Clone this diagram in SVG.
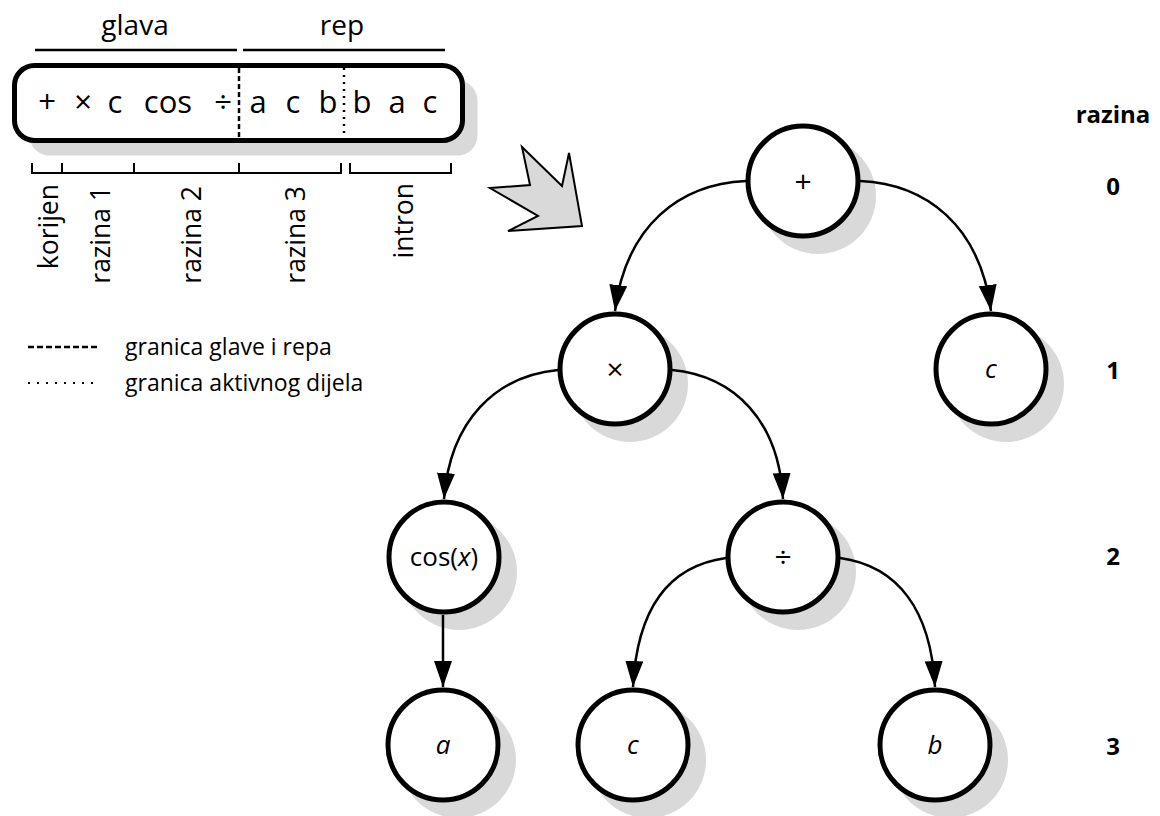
<svg xmlns="http://www.w3.org/2000/svg" width="1160" height="816" viewBox="0 0 1160 816">
<defs>
<style>
.t{font-family:"Open Sans","Noto Sans","DejaVu Sans",sans-serif;fill:#000}
.c{text-anchor:middle}
.sh{fill:#d9d9d9}
.nc{fill:#fff;stroke:#000;stroke-width:5}
.edge{fill:none;stroke:#000;stroke-width:2.5;marker-end:url(#arr)}
.lvl{font-weight:bold;font-size:24px;text-anchor:middle}
.nl{font-size:26px;text-anchor:middle}
.sym{font-size:30px}
.it{font-style:italic}
.bx{font-size:31px;text-anchor:middle}
.vl{font-size:26.5px;text-anchor:end}
</style>
<marker id="arr" markerUnits="userSpaceOnUse" markerWidth="28" markerHeight="20" refX="26" refY="9" orient="auto">
<path d="M0,0 L26,9 L0,18 z" fill="#000"/>
</marker>
</defs>
<rect width="1160" height="816" fill="#fff"/>

<g id="chromosome">
<text class="t c" x="135" y="35" font-size="28">glava</text>
<text class="t c" x="342" y="35" font-size="28">rep</text>
<path d="M35,50 H237 M243,50 H445" stroke="#000" stroke-width="2.5" fill="none"/>
<rect class="sh" x="29.5" y="80.5" width="448" height="75" rx="20"/>
<rect x="14.5" y="65.5" width="448" height="75" rx="20" fill="#fff" stroke="#000" stroke-width="5"/>
<line x1="239" y1="68" x2="239" y2="138" stroke="#000" stroke-width="2.5" stroke-dasharray="5,3"/>
<line x1="344" y1="68" x2="344" y2="138" stroke="#000" stroke-width="2.5" stroke-dasharray="2,5"/>
<text class="t bx" x="47" y="113">+</text>
<text class="t bx" x="83" y="113">×</text>
<text class="t bx" x="115" y="113">c</text>
<text class="t bx" x="168" y="113">cos</text>
<text class="t bx" x="223" y="113">÷</text>
<text class="t bx" x="258" y="113">a</text>
<text class="t bx" x="293" y="113">c</text>
<text class="t bx" x="328" y="113">b</text>
<text class="t bx" x="362" y="113">b</text>
<text class="t bx" x="397" y="113">a</text>
<text class="t bx" x="430" y="113">c</text>
<path d="M32,163 V173 H341 V163 M62,173 V163 M134,173 V163 M239,173 V163 M350,163 V173 H451 V163" stroke="#000" stroke-width="2" fill="none"/>
<text class="t vl" transform="translate(58,184) rotate(-90)">korijen</text>
<text class="t vl" transform="translate(110,186) rotate(-90)">razina 1</text>
<text class="t vl" transform="translate(201,186) rotate(-90)">razina 2</text>
<text class="t vl" transform="translate(305,186) rotate(-90)">razina 3</text>
<text class="t vl" transform="translate(413,183) rotate(-90)">intron</text>
</g>

<g id="legend">
<line x1="28" y1="347" x2="97" y2="347" stroke="#000" stroke-width="2.5" stroke-dasharray="6,3"/>
<line x1="28" y1="383" x2="97" y2="383" stroke="#000" stroke-width="2" stroke-dasharray="2,7"/>
<text class="t" x="125" y="355" font-size="23">granica glave i repa</text>
<text class="t" x="125" y="391" font-size="23">granica aktivnog dijela</text>
</g>

<g id="bigarrow">
<polygon points="522,147 562,186 569,153 582,226 508,231 538,216 490,188 530,185" fill="#d9d9d9" stroke="#000" stroke-width="2" stroke-linejoin="miter"/>
</g>

<g id="levels">
<text class="t lvl" x="1113" y="123">razina</text>
<text class="t lvl" x="1113" y="195">0</text>
<text class="t lvl" x="1113" y="379">1</text>
<text class="t lvl" x="1113" y="565">2</text>
<text class="t lvl" x="1113" y="755">3</text>
</g>

<g id="n-plus"><circle class="sh" cx="818" cy="196" r="58"/><circle class="nc" cx="803" cy="181" r="55"/><text class="t nl sym" x="803" y="192">+</text></g>
<g id="n-times"><circle class="sh" cx="630" cy="384" r="58"/><circle class="nc" cx="615" cy="369" r="55"/><text class="t nl sym" x="615" y="380">×</text></g>
<g id="n-c1"><circle class="sh" cx="1006" cy="384" r="58"/><circle class="nc" cx="991" cy="369" r="55"/><text class="t nl it" x="991" y="378">c</text></g>
<g id="n-cos"><circle class="sh" cx="459" cy="572" r="58"/><circle class="nc" cx="444" cy="557" r="55"/><text class="t nl" x="444" y="566">cos(<tspan class="it">x</tspan>)</text></g>
<g id="n-div"><circle class="sh" cx="798" cy="572" r="58"/><circle class="nc" cx="783" cy="557" r="55"/><text class="t nl sym" x="783" y="568">÷</text></g>
<g id="n-a"><circle class="sh" cx="458" cy="760" r="58"/><circle class="nc" cx="443" cy="745" r="55"/><text class="t nl it" x="443" y="754">a</text></g>
<g id="n-c3"><circle class="sh" cx="648" cy="760" r="58"/><circle class="nc" cx="633" cy="745" r="55"/><text class="t nl it" x="633" y="754">c</text></g>
<g id="n-b"><circle class="sh" cx="950" cy="760" r="58"/><circle class="nc" cx="935" cy="745" r="55"/><text class="t nl it" x="935" y="754">b</text></g>

<g id="connectors">
<path class="edge" d="M746,181 C680,184 626,225 615,311"/>
<path class="edge" d="M860,181 C926,184 980,225 991,311"/>
<path class="edge" d="M558,370 C496,376 450,420 444,499"/>
<path class="edge" d="M672,370 C734,376 779,420 783,499"/>
<path class="edge" d="M443,615 L443,687"/>
<path class="edge" d="M726,558 C668,566 637,610 633,687"/>
<path class="edge" d="M840,558 C898,566 931,610 935,687"/>
</g>
</svg>
